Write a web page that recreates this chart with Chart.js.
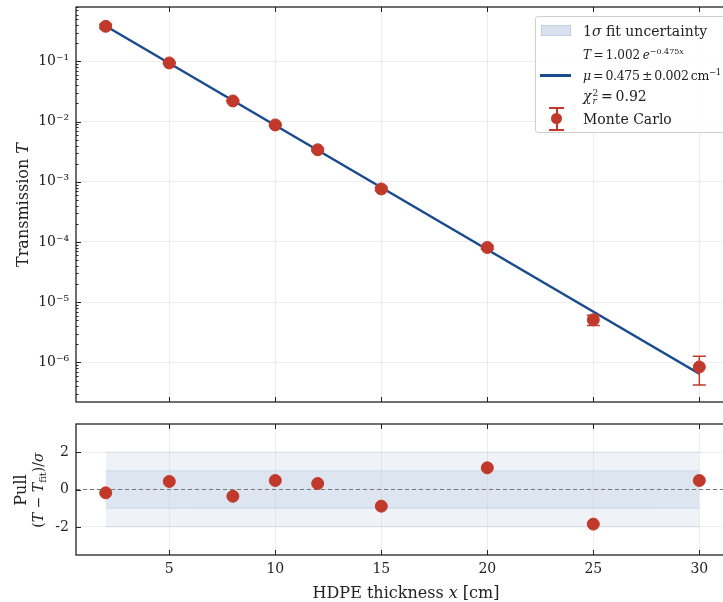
<!DOCTYPE html>
<html>
<head>
<meta charset="utf-8">
<script src="https://cdn.jsdelivr.net/npm/chart.js@4/dist/chart.umd.min.js"></script>
<style>
  html, body { margin: 0; padding: 0; background: #fff; overflow: hidden; }
  #wrap { position: relative; width: 723px; height: 602px; overflow: hidden; font-family: 'DejaVu Serif', serif; color: #222; }
  #topCanvas { position: absolute; left: 0; top: 0; }
  #botCanvas { position: absolute; left: 0; top: 410px; }
  .lbl { position: absolute; white-space: nowrap; transform: translate(-50%, -50%); }
  .rot { transform: translate(-50%, -50%) rotate(-90deg); }
  #legend { position: absolute; left: 535px; top: 16px; width: 210px; height: 115px; border: 1px solid #cfcfcf; border-radius: 3px; background: rgba(255,255,255,0.85); font-size: 14px; }
  #legend .row { position: absolute; left: 47px; white-space: nowrap; transform: translateY(-50%); }
  i { font-style: italic; }
  .ss { display: inline-block; vertical-align: middle; font-size: 9px; line-height: 8px; margin-left: 1px; }
  .ss span { display: block; }
</style>
</head>
<body>
<div id="wrap">
  <canvas id="topCanvas" width="736" height="410" style="width:736px;height:410px"></canvas>
  <canvas id="botCanvas" width="736" height="192" style="width:736px;height:192px"></canvas>

  <div class="lbl rot" style="left:22px;top:205px;font-size:16px">Transmission <i>T</i></div>
  <div class="lbl rot" style="left:20px;top:490px;font-size:16px">Pull</div>
  <div class="lbl rot" style="left:39px;top:490px;font-size:14px">(<i>T</i> − <i>T</i><sub style="font-size:10px">fit</sub>)/<i>σ</i></div>
  <div class="lbl" style="left:406px;top:592px;font-size:16px">HDPE thickness <i>x</i> [cm]</div>

  <div id="legend">
    <div style="position:absolute;left:5px;top:8px;width:28px;height:9px;background:#d9e1ee;border:1px solid #c3d0e3"></div>
    <div class="row" style="top:14px">1<i>σ</i> fit uncertainty</div>
    <div class="row" style="top:37px;font-size:12px"><i>T</i>&#8201;=&#8201;1.002&#8201;<i>e</i><sup style="font-size:8px">−0.475<i>x</i></sup></div>
    <div style="position:absolute;left:4px;top:57px;width:31px;height:2.5px;background:#1a4b8f"></div>
    <div class="row" style="top:58px;font-size:12.5px;letter-spacing:-0.3px"><i>μ</i>&#8201;=&#8201;0.475&#8201;±&#8201;0.002&#8201;cm<sup style="font-size:8.5px">−1</sup></div>
    <div class="row" style="top:79px"><i>χ</i><span class="ss"><span>2</span><span><i>r</i></span></span>&#8201;=&#8201;0.92</div>
    <div style="position:absolute;left:13px;top:90px;width:15px;height:2px;background:#c0392b"></div>
    <div style="position:absolute;left:19.5px;top:90px;width:2px;height:24px;background:#c0392b"></div>
    <div style="position:absolute;left:13px;top:112px;width:15px;height:2px;background:#c0392b"></div>
    <div style="position:absolute;left:15px;top:96px;width:11px;height:11px;border-radius:50%;background:#c0392b"></div>
    <div class="row" style="top:102px">Monte Carlo</div>
  </div>
</div>

<script>
// data
const thickness = [2, 5, 8, 10, 12, 15, 20, 25, 30];
const transmission = [0.382, 0.0941, 0.0220, 0.00880, 0.00340, 7.6e-4, 8.1e-5, 5.1e-6, 8.4e-7];
const transErr = [0.03, 0.002, 6e-4, 3e-4, 1.6e-4, 5e-5, 5.3e-6, 1.0e-6, 4.2e-7];
const pulls = [-0.18, 0.43, -0.36, 0.48, 0.32, -0.89, 1.16, -1.85, 0.48];

// fit line and its 1 sigma band, end points
const fitX = [2, 30];
const fitT = [0.3875, 6.47e-7];
const fitLo = [0.384, 6.1e-7];
const fitHi = [0.391, 6.87e-7];

// pull bands
const bandX = [2, 30];
const band1 = 1;
const band2 = 2;

const xTicks = [5, 10, 15, 20, 25, 30];
const yDecades = [1e-6, 1e-5, 1e-4, 1e-3, 1e-2, 1e-1];
const pullTicks = [-2, 0, 2];

const RED = '#c0392b';
const BLUE = '#1a4b8f';
const GRID = 'rgba(0,0,0,0.07)';
const FONT = { family: "'DejaVu Serif', serif", size: 14 };

const sup = { '-': '⁻', '0': '⁰', '1': '¹', '2': '²', '3': '³', '4': '⁴', '5': '⁵', '6': '⁶', '7': '⁷', '8': '⁸', '9': '⁹' };
function powLabel(v) {
    const e = Math.round(Math.log10(v));
    return '10' + String(e).split('').map(c => sup[c]).join('');
}

function pts(xs, ys) { return xs.map((x, i) => ({ x: x, y: ys[i] })); }

// no automatic label padding, the layout is fixed by hand
function noPad(s) { s.paddingTop = 0; s.paddingBottom = 0; s.paddingLeft = 0; s.paddingRight = 0; }

// inward ticks + black frame, matplotlib style
function frameTicks(isLog) {
    return {
        id: 'frameTicks',
        afterDraw(chart) {
            const { ctx, chartArea: a, scales } = chart;
            const x = scales.x, y = scales.y;
            ctx.save();
            ctx.strokeStyle = '#222';
            ctx.lineWidth = 1;
            const seg = (x1, y1, x2, y2) => { ctx.beginPath(); ctx.moveTo(x1, y1); ctx.lineTo(x2, y2); ctx.stroke(); };
            x.ticks.forEach(t => {
                const px = Math.round(x.getPixelForValue(t.value)) + 0.5;
                seg(px, a.top, px, a.top + 5);
                seg(px, a.bottom, px, a.bottom - 5);
            });
            y.ticks.forEach(t => {
                const py = Math.round(y.getPixelForValue(t.value)) + 0.5;
                seg(a.left, py, a.left + 5, py);
            });
            if (isLog) {
                for (let k = -7; k <= 0; k++) {
                    for (let m = 2; m <= 9; m++) {
                        const v = m * Math.pow(10, k);
                        if (v < y.min || v > y.max) continue;
                        const py = Math.round(y.getPixelForValue(v)) + 0.5;
                        seg(a.left, py, a.left + 2.5, py);
                    }
                }
            }
            ctx.lineWidth = 1.3;
            ctx.strokeRect(a.left, a.top, a.right - a.left, a.bottom - a.top);
            ctx.restore();
        }
    };
}

const errorBars = {
    id: 'errorBars',
    afterDatasetDraw(chart, args) {
        if (args.index !== 1) return;
        const { ctx, scales: { x, y } } = chart;
        ctx.save();
        ctx.strokeStyle = RED;
        ctx.lineWidth = 1.5;
        thickness.forEach((t, i) => {
            const px = x.getPixelForValue(t);
            const yt = y.getPixelForValue(transmission[i] + transErr[i]);
            const yb = y.getPixelForValue(Math.max(transmission[i] - transErr[i], 1e-9));
            ctx.beginPath();
            ctx.moveTo(px, yt); ctx.lineTo(px, yb);
            ctx.moveTo(px - 6.5, yt); ctx.lineTo(px + 6.5, yt);
            ctx.moveTo(px - 6.5, yb); ctx.lineTo(px + 6.5, yb);
            ctx.stroke();
        });
        ctx.restore();
    }
};

const zeroLine = {
    id: 'zeroLine',
    afterDatasetDraw(chart, args) {
        if (args.index !== 1) return;
        const { ctx, chartArea: a, scales: { y } } = chart;
        const py = y.getPixelForValue(0);
        ctx.save();
        ctx.strokeStyle = '#777';
        ctx.lineWidth = 1;
        ctx.setLineDash([4, 3]);
        ctx.beginPath(); ctx.moveTo(a.left, py); ctx.lineTo(a.right, py); ctx.stroke();
        ctx.restore();
    }
};

const xScale = (showLabels) => ({
    type: 'linear',
    min: 0.6, max: 31.4,
    afterBuildTicks: s => { s.ticks = xTicks.map(v => ({ value: v })); },
    afterFit: s => { s.height = showLabels ? 47 : 0; noPad(s); },
    grid: { color: GRID, drawTicks: false },
    border: { display: false },
    ticks: { display: showLabels, color: '#222', font: FONT, padding: 6, maxRotation: 0 }
});

new Chart(document.getElementById('topCanvas'), {
    type: 'scatter',
    data: {
        datasets: [
            { label: 'Monte Carlo', data: pts(thickness, transmission), backgroundColor: RED, borderColor: RED, pointRadius: 6, pointHoverRadius: 6 },
            { label: 'fit', type: 'line', data: pts(fitX, fitT), borderColor: BLUE, borderWidth: 2.5, pointRadius: 0, fill: false },
            { label: 'band hi', type: 'line', data: pts(fitX, fitHi), borderWidth: 0, pointRadius: 0, backgroundColor: 'rgba(176,196,222,0.5)', fill: '+1' },
            { label: 'band lo', type: 'line', data: pts(fitX, fitLo), borderWidth: 0, pointRadius: 0, fill: false }
        ]
    },
    options: {
        responsive: false,
        animation: false,
        devicePixelRatio: 1,
        layout: { padding: { left: 0, top: 7, right: 4, bottom: 8 } },
        plugins: { legend: { display: false }, tooltip: { enabled: false } },
        scales: {
            x: xScale(false),
            y: {
                type: 'logarithmic',
                min: 2.2e-7, max: 0.8,
                afterBuildTicks: s => { s.ticks = yDecades.map(v => ({ value: v })); },
                afterFit: s => { s.width = 76; noPad(s); },
                grid: { color: GRID, drawTicks: false },
                border: { display: false },
                ticks: { color: '#222', font: FONT, padding: 7, callback: v => powLabel(v) }
            }
        }
    },
    plugins: [errorBars, frameTicks(true)]
});

new Chart(document.getElementById('botCanvas'), {
    type: 'scatter',
    data: {
        datasets: [
            { label: 'pull', data: pts(thickness, pulls), backgroundColor: RED, borderColor: RED, pointRadius: 6, pointHoverRadius: 6 },
            { label: '1 sigma hi', type: 'line', data: pts(bandX, bandX.map(() => band1)), borderColor: 'rgba(176,196,222,0.45)', borderWidth: 1, pointRadius: 0, backgroundColor: 'rgba(176,196,222,0.3)', fill: '+1' },
            { label: '1 sigma lo', type: 'line', data: pts(bandX, bandX.map(() => -band1)), borderColor: 'rgba(176,196,222,0.45)', borderWidth: 1, pointRadius: 0, fill: false },
            { label: '2 sigma hi', type: 'line', data: pts(bandX, bandX.map(() => band2)), borderColor: 'rgba(176,196,222,0.3)', borderWidth: 1, pointRadius: 0, backgroundColor: 'rgba(176,196,222,0.2)', fill: '+1' },
            { label: '2 sigma lo', type: 'line', data: pts(bandX, bandX.map(() => -band2)), borderColor: 'rgba(176,196,222,0.3)', borderWidth: 1, pointRadius: 0, fill: false }
        ]
    },
    options: {
        responsive: false,
        animation: false,
        devicePixelRatio: 1,
        layout: { padding: { left: 0, top: 14, right: 4, bottom: 0 } },
        plugins: { legend: { display: false }, tooltip: { enabled: false } },
        scales: {
            x: xScale(true),
            y: {
                type: 'linear',
                min: -3.5, max: 3.5,
                afterBuildTicks: s => { s.ticks = pullTicks.map(v => ({ value: v })); },
                afterFit: s => { s.width = 76; noPad(s); },
                grid: { color: GRID, drawTicks: false },
                border: { display: false },
                ticks: { color: '#222', font: FONT, padding: 7, callback: v => String(v) }
            }
        }
    },
    plugins: [zeroLine, frameTicks(false)]
});
</script>
</body>
</html>
